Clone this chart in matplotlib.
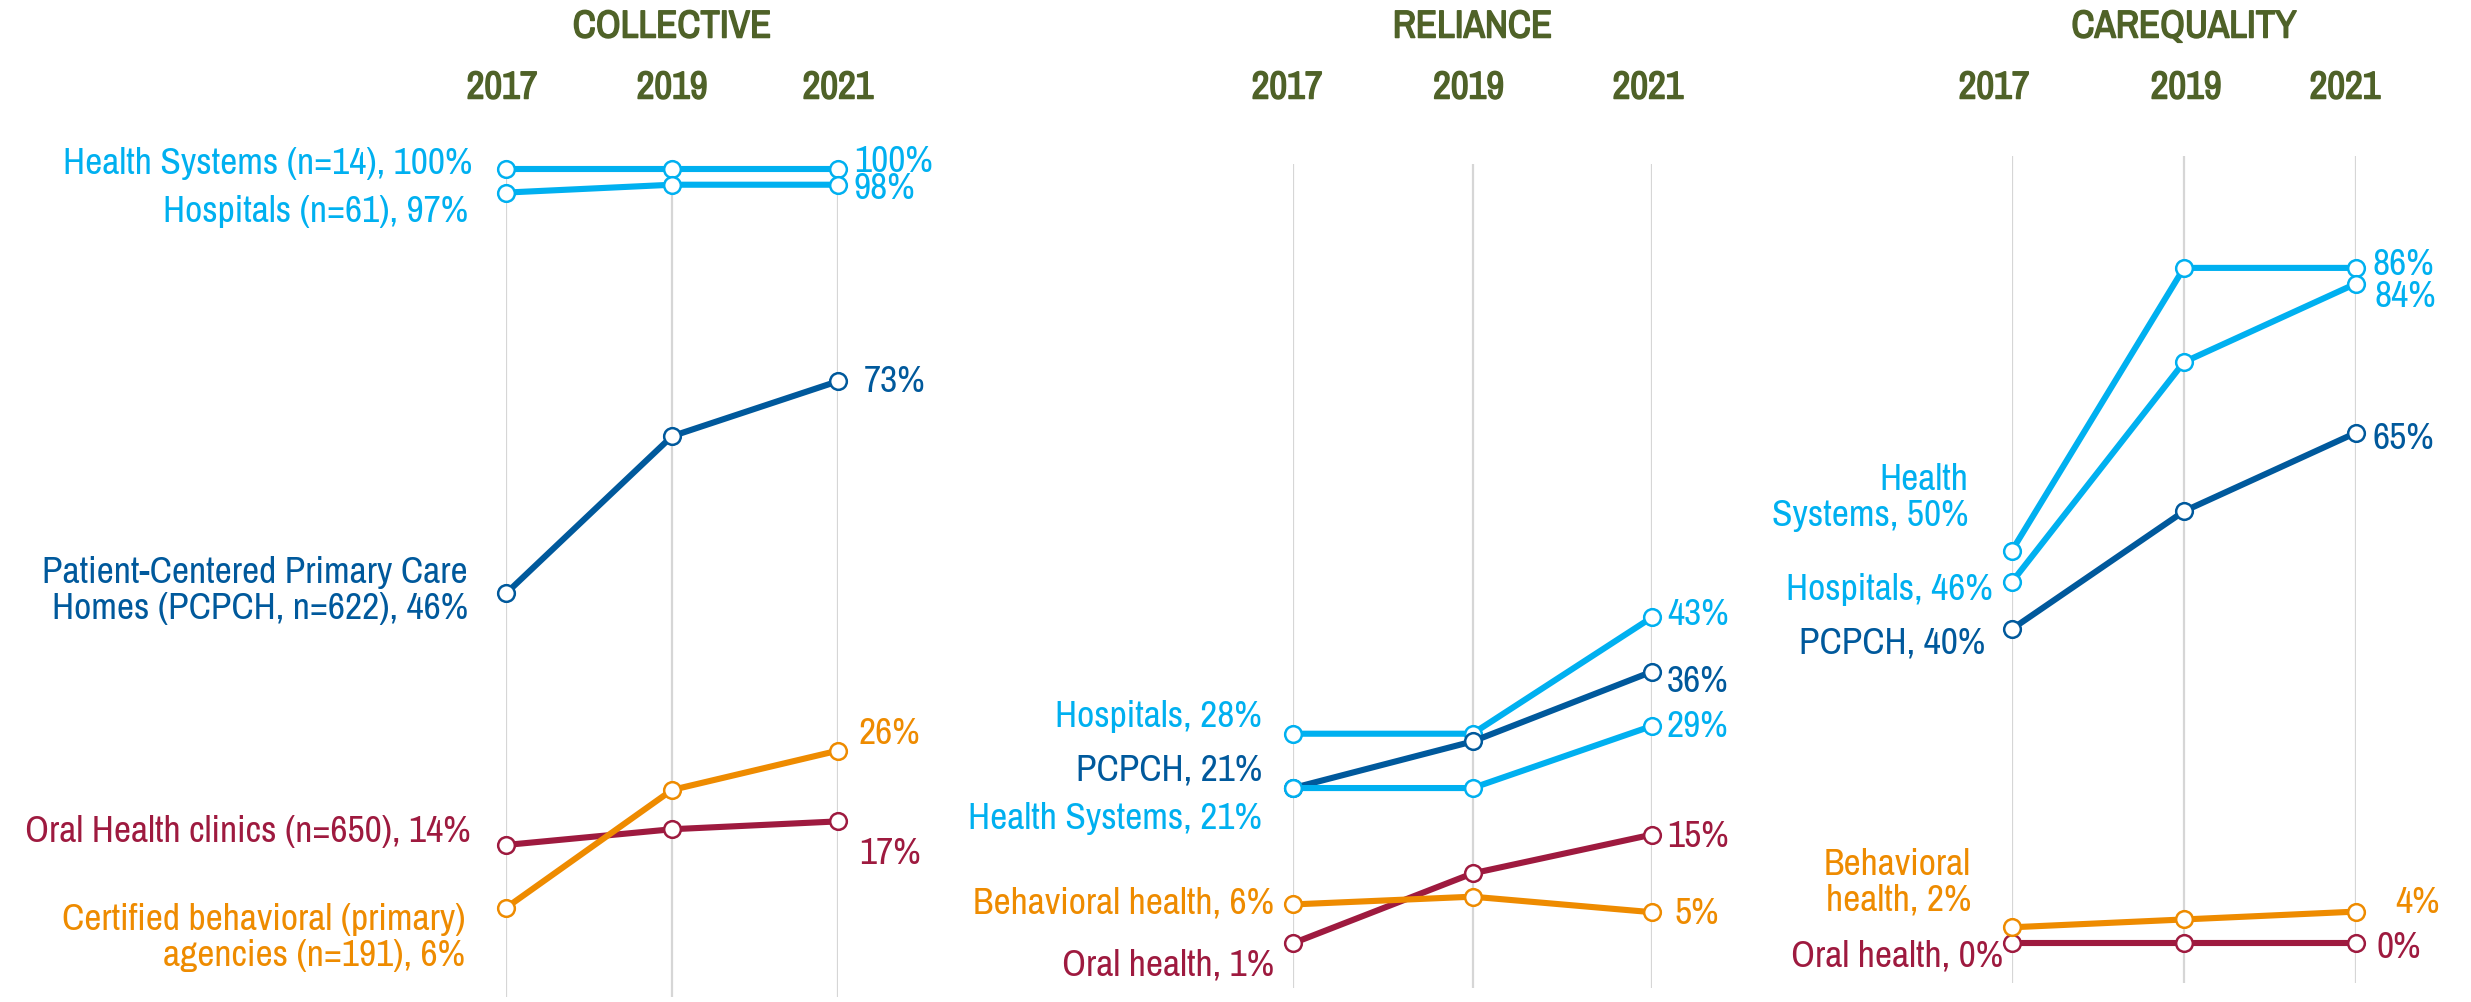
import matplotlib.pyplot as plt
import matplotlib.patheffects as pe
from matplotlib.transforms import blended_transform_factory

plt.rcParams['font.family'] = ['Archivo Narrow', 'DejaVu Sans']

"""
==========================================================
    Datos
==========================================================
"""
years = ['2017', '2019', '2021']
panels = ['COLLECTIVE', 'RELIANCE', 'CAREQUALITY']

# Collective
col_hs = [100, 100, 100]
col_hosp = [97, 98, 98]
col_pcpch = [46, 66, 73]
col_oral = [14, 16, 17]
col_behav = [6, 21, 26]
col_names = ['Health Systems (n=14)', 'Hospitals (n=61)',
             'Patient-Centered Primary Care\nHomes (PCPCH, n=622)',
             'Oral Health clinics (n=650)',
             'Certified behavioral (primary)\nagencies (n=191)']

# Reliance
rel_hosp = [28, 28, 43]
rel_pcpch = [21, 27, 36]
rel_hs = [21, 21, 29]
rel_oral = [1, 10, 15]
rel_behav = [6, 7, 5]
rel_names = ['Hospitals', 'PCPCH', 'Health Systems', 'Oral health',
             'Behavioral health']

# CareQuality
cq_hs = [50, 86, 86]
cq_hosp = [46, 74, 84]
cq_pcpch = [40, 55, 65]
cq_oral = [0, 0, 0]
cq_behav = [2, 3, 4]
cq_names = ['Health\nSystems', 'Hospitals', 'PCPCH', 'Oral health',
            'Behavioral\nhealth']

"""
==========================================================
    Estilo
==========================================================
"""
LIGHT = '#00B0F0'
DARK = '#00599C'
ORAL = '#9E1A3F'
ORANGE = '#EE8B00'
GREEN = '#4F6228'
GRID = '#D6D6D6'

W, H = 2471, 1002

# (left, right, top, bottom, y of 0%, y of 100%) in pixels
boxes = [(506, 838, 169, 997, 955, 169),
         (1293, 1652, 164, 988, 951, 175),
         (2012, 2356, 156, 983, 943, 158)]

series = [
    [(col_hs, LIGHT), (col_hosp, LIGHT), (col_pcpch, DARK),
     (col_oral, ORAL), (col_behav, ORANGE)],
    [(rel_hosp, LIGHT), (rel_pcpch, DARK), (rel_hs, LIGHT),
     (rel_oral, ORAL), (rel_behav, ORANGE)],
    [(cq_hs, LIGHT), (cq_hosp, LIGHT), (cq_pcpch, DARK),
     (cq_oral, ORAL), (cq_behav, ORANGE)],
]
names = [col_names, rel_names, cq_names]

# offsets of the labels from the markers, pixels (left label, right label)
left_off = [[(-34, 6), (-38, -19), (-38, 3), (-35, 13), (-41, -30)],
            [(-31, 17), (-31, 18), (-31, -30), (-19, -22), (-19, 1)],
            [(-44, 53), (-19, -8), (-27, -14), (-9, -13), (-41, 45)]]
right_off = [[(16, 8), (16, -4), (26, 0), (21, -32), (21, 17)],
             [(15, 3), (15, -10), (15, -1), (15, -2), (22, -1)],
             [(17, 3), (19, -13), (17, -6), (21, -4), (39, 9)]]
# small shifts of the year headers, pixels
year_dx = [(-4, 0, 0), (-6, -4, -4), (-18, 2, -11)]

fig = plt.figure(figsize=(W / 100, H / 100), dpi=100)

for p in range(3):
    l, r, top, bot, y0, y100 = boxes[p]
    ppp = (y0 - y100) / 100.0
    ax = fig.add_axes([l / W, 1 - bot / H, (r - l) / W, (bot - top) / H])
    ax.set_xlim(0, 2)
    ax.set_ylim((y0 - bot) / ppp, (y0 - top) / ppp)
    ax.axis('off')
    for x in range(len(years)):
        ax.axvline(x, color=GRID, lw=1.6, zorder=0)

    for k, (vals, c) in enumerate(series[p]):
        ax.plot(range(len(years)), vals, color=c, lw=4.4, marker='o', ms=12,
                mfc='white', mec=c, mew=1.8, clip_on=False, zorder=2)
        ax.annotate(names[p][k] + ', %d%%' % vals[0], (0, vals[0]),
                    xytext=left_off[p][k], textcoords='offset pixels',
                    ha='right', va='center', fontsize=27, color=c,
                    linespacing=1.1, annotation_clip=False)
        ax.annotate('%d%%' % vals[-1], (2, vals[-1]),
                    xytext=right_off[p][k], textcoords='offset pixels',
                    ha='left', va='center', fontsize=27, color=c,
                    annotation_clip=False)

    # no bold cut of the narrow font, so thicken the headers with a stroke
    bold = [pe.withStroke(linewidth=1.1, foreground=GREEN)]
    tr = blended_transform_factory(ax.transData, fig.transFigure)
    ax.text(1, 1 - 27 / H, panels[p], transform=tr, ha='center', va='center',
            fontsize=28, color=GREEN, path_effects=bold)
    for x, yr in enumerate(years):
        ax.annotate(yr, (x, 1 - 88 / H), xycoords=tr,
                    xytext=(year_dx[p][x], 0), textcoords='offset pixels',
                    ha='center', va='center', fontsize=28, color=GREEN,
                    path_effects=bold)

fig.savefig('out.png', dpi=100)
